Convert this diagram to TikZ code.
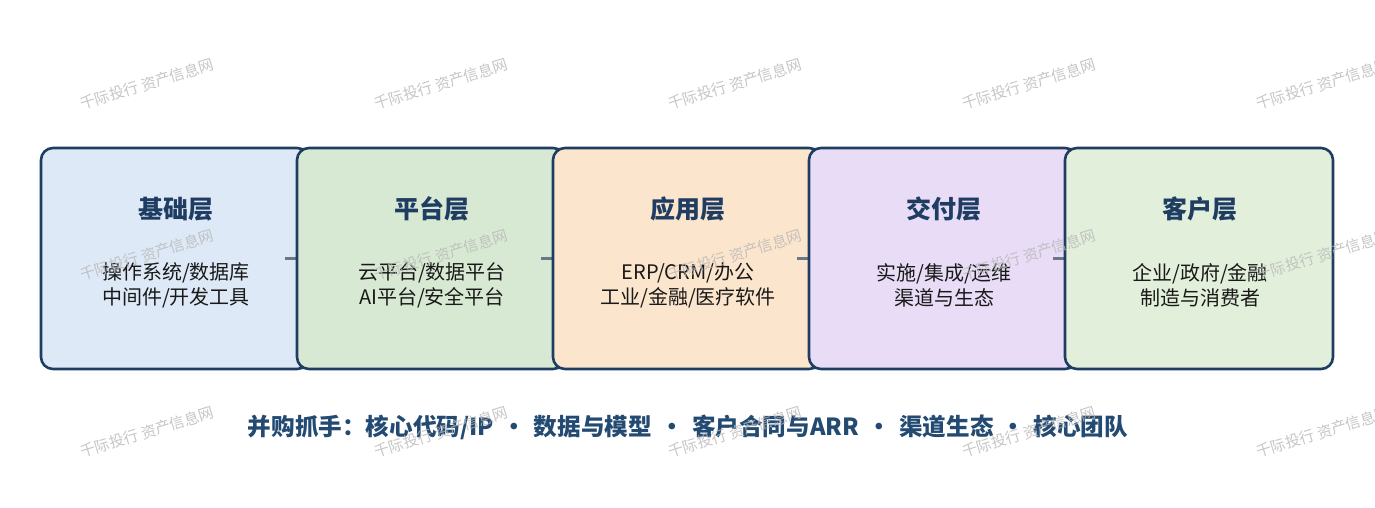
\documentclass[tikz,border=0pt]{standalone}
\usepackage{fontspec}
\setmainfont{Noto Sans CJK SC}
\definecolor{navy}{HTML}{1F3D63}
\definecolor{botnavy}{HTML}{234A72}
\definecolor{c1}{HTML}{DDE9F6}
\definecolor{c2}{HTML}{D8E9D3}
\definecolor{c3}{HTML}{FCE5CD}
\definecolor{c4}{HTML}{E8DCF6}
\definecolor{c5}{HTML}{E2EFDA}
\definecolor{conn}{HTML}{6B7785}
\definecolor{wmgray}{HTML}{B8B8B8}
\begin{document}
\begin{tikzpicture}[x=0.5pt,y=-0.5pt,
  layerbox/.style={draw=navy,line width=1.3pt,rounded corners=6pt,minimum width=134pt,minimum height=110.5pt,inner sep=0pt},
  ttl/.style={font=\fontsize{12.5pt}{15pt}\selectfont\bfseries,text=navy,inner sep=0pt},
  body/.style={font=\fontsize{10pt}{12.5pt}\selectfont,text=black!90,align=center,inner sep=0pt},
  link/.style={draw=conn,line width=1.5pt},
  wm/.style={font=\fontsize{7.5pt}{9pt}\selectfont,text=wmgray,text opacity=0.8,rotate=17,inner sep=0pt}]
\fill[white] (0,0) rectangle (1375,508);
\useasboundingbox (0,0) rectangle (1375,508);
\node[layerbox,fill=c1] (b1) at (175,258.5) {};
\draw[link] ([xshift=-12.5pt]b1.east) -- (b1.east);
\node[layerbox,fill=c2] (b2) at (431,258.5) {};
\draw[link] ([xshift=-12.5pt]b2.east) -- (b2.east);
\node[layerbox,fill=c3] (b3) at (687,258.5) {};
\draw[link] ([xshift=-12.5pt]b3.east) -- (b3.east);
\node[layerbox,fill=c4] (b4) at (943,258.5) {};
\draw[link] ([xshift=-12.5pt]b4.east) -- (b4.east);
\node[layerbox,fill=c5] (b5) at (1199,258.5) {};
\node[ttl] (t1) at (176,209) {基础层};
\node[ttl] (t2) at (432,209) {平台层};
\node[ttl] (t3) at (688,209) {应用层};
\node[ttl] (t4) at (944,209) {交付层};
\node[ttl] (t5) at (1200,209) {客户层};
\node[body] (d1) at (176,285) {操作系统/数据库\\中间件/开发工具};
\node[body] (d2) at (432,285) {云平台/数据平台\\AI平台/安全平台};
\node[body] (d3) at (688,285) {ERP/CRM/办公\\工业/金融/医疗软件};
\node[body] (d4) at (944,285) {实施/集成/运维\\渠道与生态};
\node[body] (d5) at (1200,285) {企业/政府/金融\\制造与消费者};
\node[font=\fontsize{11.8pt}{14pt}\selectfont\bfseries,text=botnavy,inner sep=0pt] (bottom) at (688,427)
  {并购抓手：核心代码/IP\hspace{0.35em}·\hspace{0.35em}数据与模型\hspace{0.35em}·\hspace{0.35em}客户合同与ARR\hspace{0.35em}·\hspace{0.35em}渠道生态\hspace{0.35em}·\hspace{0.35em}核心团队};
\foreach \yy [count=\r] in {84,255,432}{
  \foreach \xx [count=\c] in {147,441,735,1029,1323}{
    \node[wm] (w\r\c) at (\xx,\yy) {千际投行 资产信息网};
  }
}
\end{tikzpicture}
\end{document}
